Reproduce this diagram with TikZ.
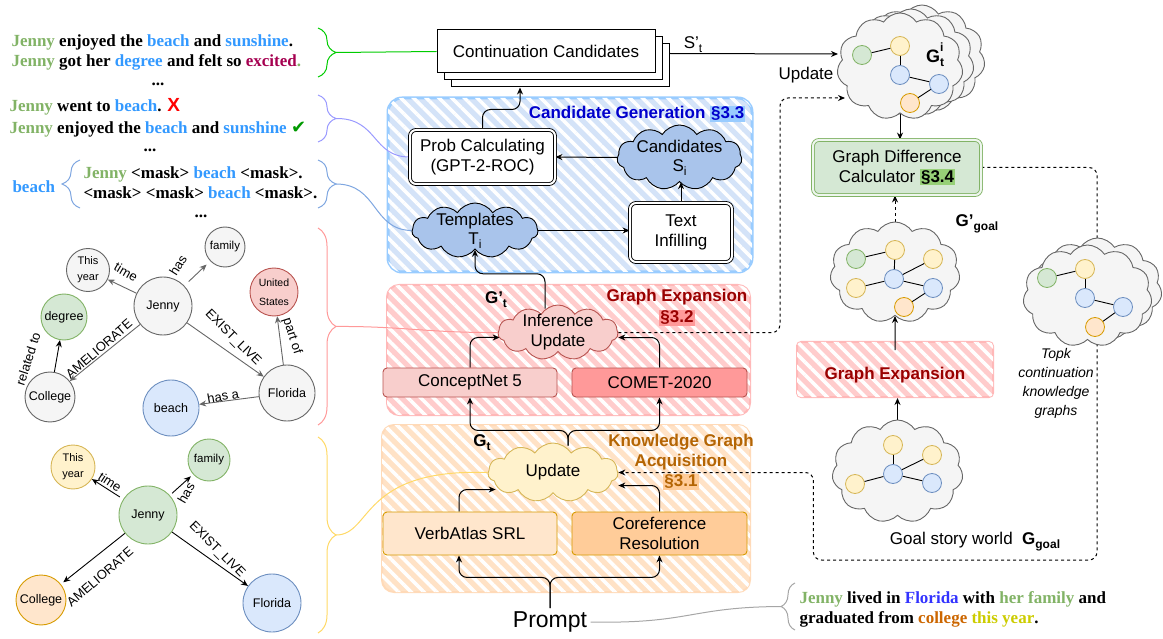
\documentclass[tikz,border=0pt]{standalone}
\usepackage{fontspec}
\setmainfont{Liberation Sans}
\newfontfamily\serifb{Liberation Serif}
\newfontfamily\sansf{Liberation Sans}
\newfontfamily\symf{DejaVu Sans}
\usetikzlibrary{shapes.symbols,arrows.meta,patterns.meta,decorations.pathreplacing,calc}
\definecolor{gfill}{HTML}{D5E8D4}
\definecolor{gline}{HTML}{82B366}
\definecolor{bfill}{HTML}{DAE8FC}
\definecolor{bline}{HTML}{6C8EBF}
\definecolor{rfill}{HTML}{F8CECC}
\definecolor{rline}{HTML}{B85450}
\definecolor{yfill}{HTML}{FFF2CC}
\definecolor{yline}{HTML}{D6B656}
\definecolor{ofill}{HTML}{FFE6CC}
\definecolor{oline}{HTML}{D79B00}
\definecolor{gryfill}{HTML}{F5F5F5}
\definecolor{gryline}{HTML}{666666}
\definecolor{cloudblue}{HTML}{A9C4EB}
\definecolor{salmon}{HTML}{FF9999}
\definecolor{peach}{HTML}{FFCC99}
\definecolor{jg}{HTML}{82B366}
\definecolor{jb}{HTML}{3399FF}
\definecolor{jr}{HTML}{A50050}
\definecolor{ckgreen}{HTML}{009900}
\definecolor{fblue}{HTML}{3333FF}
\definecolor{corange}{HTML}{CC6600}
\definecolor{tyellow}{HTML}{CCCC00}
\definecolor{brgreen}{HTML}{00CC00}
\definecolor{brpurple}{HTML}{9999FF}
\definecolor{brblue}{HTML}{7EA6E0}
\definecolor{brred}{HTML}{FF9999}
\definecolor{bryellow}{HTML}{FFD966}
\definecolor{hatchblue}{HTML}{D4E3F8}
\definecolor{hatchred}{HTML}{FFCCCC}
\definecolor{hatchorange}{HTML}{FFE2C6}
\definecolor{bordblue}{HTML}{99CCFF}
\definecolor{bordred}{HTML}{FFB8B8}
\definecolor{bordorange}{HTML}{FFDAB8}
\definecolor{titleblue}{HTML}{0000CC}
\definecolor{titlered}{HTML}{990000}
\definecolor{titleorange}{HTML}{B46504}
\definecolor{hlgreen}{HTML}{97D077}
\definecolor{hlblue}{HTML}{99CCFF}
\setlength{\fboxsep}{1pt}
\newcommand\mysub[1]{\raisebox{-0.45ex}{\fontsize{12}{12}\selectfont #1}}
\pgfdeclarelayer{back}
\pgfdeclarelayer{mid}
\pgfsetlayers{back,mid,main}
\begin{document}
\begin{tikzpicture}[x=1pt,y=-1pt,font=\fontsize{17}{20}\selectfont,>={Stealth[length=7pt,width=6pt]},
  cc/.style={draw,line width=1pt,fill=white,minimum width=218pt,minimum height=43pt,inner sep=0},
  dbox/.style={draw,double=white,double distance=2pt,line width=0.9pt,rounded corners=6pt,align=center,inner sep=0},
  ebox/.style={draw,line width=0.9pt,rounded corners=4pt,align=center,inner sep=0},
  cl/.style={cloud,cloud puffs=11,cloud puff arc=115,cloud ignores aspect,draw,line width=0.9pt,inner sep=0,align=center},
  mn/.style={circle,minimum size=19pt,inner sep=0,line width=0.8pt},
  mg/.style={mn,fill=gfill,draw=gline},
  my/.style={mn,fill=yfill,draw=yline},
  mb/.style={mn,fill=bfill,draw=bline},
  mo/.style={mn,fill=ofill,draw=oline},
  me/.style={line width=0.9pt},
  gn/.style={circle,inner sep=0,line width=0.9pt,align=center,font=\fontsize{12.5}{14}\selectfont},
  el/.style={font=\fontsize{13}{14}\selectfont,inner sep=1pt},
  ge/.style={->,draw=gryline,line width=0.9pt},
  be/.style={->,draw=black,line width=0.9pt},
  brc/.style={decorate,decoration={brace,amplitude=18pt},line width=1pt},
  serb/.style={font=\serifb\bfseries\fontsize{17}{20}\selectfont},
  hatch/.style 2 args={fill=#1,postaction={pattern={Lines[angle=-45,distance=9pt,line width=3.5pt]},pattern color=white},draw=#2}
]
\useasboundingbox (0,0) rectangle (1163,639);

% ---------- hatched section boxes ----------
\begin{pgfonlayer}{back}
\path[hatch={hatchblue}{bordblue},line width=3pt,rounded corners=14pt] (388,98) rectangle (752,272);
\path[hatch={hatchred}{bordred},line width=2pt,rounded corners=12pt] (387,285) rectangle (750,415);
\path[hatch={hatchorange}{bordorange},line width=2pt,rounded corners=12pt] (382,425) rectangle (750,592);
\path[hatch={hatchred}{bordred},line width=2pt,rounded corners=4pt] (797,342) rectangle (993,397);
\end{pgfonlayer}

% ---------- left texts ----------
\node[serb,anchor=west,align=left] (t1) at (8,52) {\textcolor{jg}{Jenny} enjoyed the \textcolor{jb}{beach} and \textcolor{jb}{sunshine}.\\\textcolor{jg}{Jenny} got her \textcolor{jb}{degree} and felt so \textcolor{jr}{excited}\textcolor{jg}{.}};
\node[serb] (d1) at (158,84) {...};
\node[serb,anchor=west,align=left,font=\serifb\bfseries\fontsize{17}{22}\selectfont] (t2) at (6,118) {\textcolor{jg}{Jenny} went to \textcolor{jb}{beach}. {\sansf\color{red}\fontsize{19}{20}\selectfont X}\\\textcolor{jg}{Jenny} enjoyed the \textcolor{jb}{beach} and \textcolor{jb}{sunshine} {\symf\color{ckgreen}\fontsize{18}{20}\selectfont ✔}};
\node[serb] (d2) at (150,150) {...};
\node[serb,anchor=west,text=jb] (bl) at (9,187) {beach};
\node[serb,anchor=west,align=left] (ml) at (80,183) {\textcolor{jg}{Jenny} <mask> \textcolor{jb}{beach} <mask>.\\<mask> <mask> \textcolor{jb}{beach} <mask>.};
\node[serb] (d3) at (201,216) {...};

% braces
\draw[brc,draw=brgreen] (318,28) -- (318,77);
\draw[brc,draw=brpurple] (318,95) -- (318,142);
\draw[brc,draw=brblue] (318,160) -- (318,208);
\draw[brc,draw=brblue] (80,208) -- (80,160);
\draw[brc,draw=brred] (318,228) -- (318,425);
\draw[brc,draw=bryellow] (318,437) -- (318,633);
\draw[brc,draw=gray!70,decoration={brace,amplitude=14pt}] (795,630) -- (795,583);
\coordinate (tgreen) at (336,52.5);
\coordinate (tpurple) at (336,118.5);
\coordinate (tblue) at (336,184);
\coordinate (tred) at (336,326.5);
\coordinate (tyellow) at (336,535);
\coordinate (tprompt) at (781,606.5);

% ---------- top graph ----------
\node[gn,draw=gryline,fill=gryfill,minimum size=43pt,font=\fontsize{11}{16}\selectfont] (ty1) at (88,270) {This\\year};
\node[gn,draw=gryline,fill=gryfill,minimum size=40pt,font=\fontsize{11.5}{13}\selectfont] (fa1) at (225,247) {family};
\node[gn,draw=gryline,fill=gryfill,minimum size=58pt] (je1) at (163,306) {Jenny};
\node[gn,draw=gline,fill=gfill,minimum size=46pt] (de1) at (64,317) {degree};
\node[gn,draw=rline,fill=rfill,minimum size=48pt,font=\fontsize{10.5}{19}\selectfont] (us1) at (274,292) {United\\States};
\node[gn,draw=gryline,fill=gryfill,minimum size=50pt] (co1) at (50,397) {College};
\node[gn,draw=gryline,fill=gryfill,minimum size=56pt] (fl1) at (287,393) {Florida};
\node[gn,draw=bline,fill=bfill,minimum size=56pt] (be1) at (171,408) {beach};
\draw[ge] (je1) -- (ty1);
\draw[ge,shorten <=6pt,shorten >=5pt] (je1) -- (fa1);
\draw[ge] (je1) -- (co1);
\draw[ge] (je1) -- (fl1);
\draw[ge] (fl1) -- (us1);
\draw[ge] (fl1) -- (be1);
\draw[be] (co1) -- (de1);
\node[el,rotate=-30] (l1) at (126,272) {time};
\node[el,rotate=58] (l2) at (178,265) {has};
\node[el,rotate=41] (l3) at (99,349) {AMELIORATE};
\node[el,rotate=-45] (l4) at (233,338) {EXIST\_LIVE};
\node[el,rotate=-72] (l5) at (292,336) {part of};
\node[el,rotate=10] (l6) at (223,396) {has a};
\node[el,rotate=72] (l7) at (28,359) {related to};

% ---------- bottom graph ----------
\node[gn,draw=yline,fill=yfill,minimum size=44pt,font=\fontsize{11}{16}\selectfont] (ty2) at (73,467) {This\\year};
\node[gn,draw=gline,fill=gfill,minimum size=42pt,font=\fontsize{11.5}{13}\selectfont] (fa2) at (209,460) {family};
\node[gn,draw=gline,fill=gfill,minimum size=58pt] (je2) at (148,515) {Jenny};
\node[gn,draw=oline,fill=ofill,minimum size=50pt] (co2) at (41,600) {College};
\node[gn,draw=bline,fill=bfill,minimum size=58pt] (fl2) at (272,603) {Florida};
\draw[be,shorten <=4pt] (je2) -- (ty2);
\draw[be,shorten <=3pt,shorten >=3pt] (je2) -- (fa2);
\draw[be,shorten >=3pt] (je2) -- (co2);
\draw[be] (je2) -- (fl2);
\node[el,rotate=-33] (m1) at (110,482) {time};
\node[el,rotate=60] (m2) at (186,493) {has};
\node[el,rotate=41] (m3) at (100,577) {AMELIORATE};
\node[el,rotate=-45] (m4) at (217,550) {EXIST\_LIVE};

% ---------- continuation candidates ----------
\node[cc] (cc3) at (560,65.5) {};
\node[cc] (cc2) at (553,58.5) {};
\node[cc] (ccand) at (546,51.5) {Continuation Candidates};
\node (sp) at (693,45) {S'\mysub{t}};
\node (upl) at (806,75) {Update};

% ---------- candidate generation ----------
\node[font=\bfseries\fontsize{17}{20}\selectfont,text=titleblue] (cgt) at (637,114) {Candidate Generation \colorbox{hlblue}{§3.3}};
\node[dbox,fill=white,minimum width=145pt,minimum height=54pt] (prob) at (482.5,157) {Prob Calculating\\(GPT-2-ROC)};
\node[cl,fill=cloudblue,draw=black,minimum width=125pt,minimum height=65pt,label={[align=center,font=\fontsize{17}{19}\selectfont]center:Candidates\\S\mysub{i}}] (cand) at (679.5,157.5) {};
\node[dbox,fill=white,minimum width=102pt,minimum height=59pt] (ti) at (681,232.5) {Text\\Infilling};
\node[cl,fill=cloudblue,draw=black,minimum width=126pt,minimum height=55pt,label={[align=center,font=\fontsize{17}{19}\selectfont]center:Templates\\T\mysub{i}}] (tmp) at (475,230.5) {};

% ---------- graph expansion ----------
\node[font=\bfseries\fontsize{17}{21}\selectfont,text=titlered,align=center] (get) at (677,307.5) {Graph Expansion\\\colorbox{salmon}{§3.2}};
\node[cl,fill=rfill,draw=rline,minimum width=120pt,minimum height=55pt,label={[align=center,font=\fontsize{17}{20}\selectfont]center:Inference\\Update}] (iu) at (558,332.5) {};
\node[font=\bfseries\fontsize{17}{20}\selectfont] (gtp) at (496,300) {G'\mysub{t}};
\node[ebox,fill=rfill,draw=rline,minimum width=174pt,minimum height=29pt] (cn) at (470,382.5) {ConceptNet 5};
\node[ebox,fill=salmon,draw=rline,minimum width=175pt,minimum height=29pt] (comet) at (659.5,382.5) {COMET-2020};

% ---------- KG acquisition ----------
\node[font=\bfseries\fontsize{17}{20}\selectfont,text=titleorange,align=center] (kgt) at (681,462) {Knowledge Graph\\Acquisition\\\colorbox{peach}{§3.1}};
\node[cl,fill=yfill,draw=yline,minimum width=130pt,minimum height=59pt,label={[font=\fontsize{17}{20}\selectfont]center:Update}] (upd) at (553,472.5) {};
\node[font=\bfseries\fontsize{17}{20}\selectfont] (gt) at (482,443) {G\mysub{t}};
\node[ebox,fill=ofill,draw=oline,minimum width=174pt,minimum height=43pt] (va) at (470,533.5) {VerbAtlas SRL};
\node[ebox,fill=peach,draw=oline,minimum width=175pt,minimum height=43pt] (co) at (659.5,533.5) {Coreference\\Resolution};
\node[font=\fontsize{23}{26}\selectfont] (prompt) at (550,622) {Prompt};
\node[serb,anchor=west,align=left] (ptxt) at (796,609) {\textcolor{jg}{Jenny} lived in \textcolor{fblue}{Florida} with \textcolor{jg}{her family} and\\graduated from \textcolor{corange}{college} \textcolor{tyellow}{this year}.};

% ---------- right column ----------
\node[cl,fill=gryfill,draw=gryline,minimum width=126pt,minimum height=107pt] (gi3) at (922,58.5) {};
\node[cl,fill=gryfill,draw=gryline,minimum width=126pt,minimum height=107pt] (gi2) at (911,62.5) {};
\node[cl,fill=gryfill,draw=gryline,minimum width=126pt,minimum height=107pt] (gi1) at (900,66.5) {};
\node[mg] (a1) at (862,55) {};
\node[my] (a2) at (900,46) {};
\node[mb] (a3) at (900,75) {};
\node[mb] (a4) at (939,84) {};
\node[mo] (a5) at (910,103) {};
\draw[me] (a1) -- (a2); \draw[me] (a2) -- (a3); \draw[me] (a3) -- (a4); \draw[me] (a4) -- (a5);
\node[font=\bfseries\fontsize{18}{20}\selectfont] (gil) at (935,55) {G\makebox[0pt][l]{\raisebox{1.1ex}{\fontsize{12}{12}\selectfont\bfseries i}}\raisebox{-0.5ex}{\fontsize{12}{12}\selectfont\bfseries t}};
\coordinate (gin) at (838,54);
\coordinate (gin2) at (845,98);

\node[dbox,draw=gline,fill=gfill,double=gfill!40,minimum width=168pt,minimum height=55pt] (gdc) at (897,167.5) {Graph Difference\\Calculator \colorbox{hlgreen}{\bfseries §3.4}};

\node[cl,fill=gryfill,draw=gryline,minimum width=130pt,minimum height=101pt] (ggp) at (895,272.5) {};
\node[mg] (b1) at (856,259) {};
\node[my] (b2) at (895,250) {};
\node[my] (b3) at (933,259) {};
\node[my] (b4) at (856,288) {};
\node[mb] (b5) at (894,279) {};
\node[mb] (b6) at (933,288) {};
\node[mo] (b7) at (904,307) {};
\draw[me] (b1) -- (b2); \draw[me] (b2) -- (b5); \draw[me] (b5) -- (b3); \draw[me] (b5) -- (b4); \draw[me] (b5) -- (b6); \draw[me] (b6) -- (b7);
\node[font=\bfseries\fontsize{17}{20}\selectfont] (ggpl) at (977,224) {G'\mysub{\bfseries goal}};

\node[font=\bfseries\fontsize{17}{20}\selectfont,text=titlered] (gex) at (895,375) {Graph Expansion};
\coordinate (gexc) at (895,369.5);

\node[cl,fill=gryfill,draw=gryline,minimum width=131pt,minimum height=103pt] (goal) at (897.5,471.5) {};
\node[my] (c1) at (893,445) {};
\node[my] (c2) at (932,455) {};
\node[mb] (c3) at (893,474) {};
\node[my] (c4) at (855,484) {};
\node[mb] (c5) at (932,483) {};
\draw[me] (c1) -- (c3); \draw[me] (c3) -- (c2); \draw[me] (c3) -- (c4); \draw[me] (c3) -- (c5);
\node (gsw) at (975,542) {Goal story world \ \textbf{G}\mysub{\bfseries goal}};

\node[cl,fill=gryfill,draw=gryline,minimum width=129pt,minimum height=102pt] (tk2) at (1097.5,289) {};
\node[cl,fill=gryfill,draw=gryline,minimum width=129pt,minimum height=102pt] (tk1) at (1087.5,296) {};
\node[mg] (e1) at (1047,278) {};
\node[my] (e2) at (1085,269) {};
\node[mb] (e3) at (1085,298) {};
\node[mb] (e4) at (1123,307) {};
\node[mo] (e5) at (1095,327) {};
\draw[me] (e1) -- (e2); \draw[me] (e2) -- (e3); \draw[me] (e3) -- (e4); \draw[me] (e4) -- (e5);
\node[align=center,font=\itshape\fontsize{14}{19}\selectfont] (topk) at (1056,383.5) {Topk\\continuation\\knowledge\\graphs};

% ---------- connectors ----------
\begin{pgfonlayer}{mid}
\draw[draw=brgreen,line width=1pt] (tgreen) -- (ccand.west);
\draw[draw=brpurple,line width=1pt] (tpurple) .. controls (378,118) and (372,157) .. (prob.west);
\draw[draw=brblue,line width=1pt] (tblue) .. controls (378,184) and (372,230) .. (tmp.west);
\draw[draw=brred,line width=1pt] (tred) .. controls (400,326) and (430,333) .. (iu.west);
\draw[draw=bryellow,line width=1pt] (tyellow) .. controls (372,535) and (360,468) .. (upd.west);
\draw[draw=gray!70,line width=1pt] (prompt.east) .. controls (690,624) and (690,607) .. (tprompt);

\draw[->,line width=1pt] ($(cc3.north east)+(0,10)$) -- (gin);
\draw[->,line width=1pt,rounded corners=8pt] (prob.north) |- ($(cc3.south)+(-40,22)$) -- ($(cc3.south)+(-40,0)$);
\draw[->,line width=1pt] (cand.west) -- (prob.east);
\draw[->,line width=1pt] (ti.north) -- (ti.north |- cand.south);
\draw[->,line width=1pt] (tmp.east) -- (tmp.east -| ti.west);
\draw[->,line width=1pt,rounded corners=8pt] ($(iu.north)+(-13,4)$) |- ($(tmp.south)+(0,24)$) -- (tmp.south);
\draw[->,line width=1pt,rounded corners=8pt] (cn.north) |- ($(iu.west)+(2,5)$);
\draw[->,line width=1pt,rounded corners=8pt] (comet.north) |- ($(iu.east)+(0,5)$);
\draw[->,line width=1pt,rounded corners=8pt] ($(upd.north)+(15,3)$) |- ($(cn.south)+(0,33)$) -- (cn.south);
\draw[->,line width=1pt,rounded corners=8pt] ($(upd.north)+(15,3)$) |- ($(comet.south)+(0,33)$) -- (comet.south);
\draw[->,line width=1pt,rounded corners=8pt] ($(va.north)+(-11,0)$) |- ($(upd.west)+(8,17)$);
\draw[->,line width=1pt,rounded corners=8pt] (co.north) |- ($(upd.east)+(0,13)$);
\draw[->,line width=1pt,rounded corners=8pt] (prompt.north) |- ($(va.south)+(-11,22)$) -- ($(va.south)+(-11,0)$);
\draw[->,line width=1pt,rounded corners=8pt] (prompt.north) |- ($(co.south)+(0,22)$) -- (co.south);

\draw[->,line width=1pt,dashed,rounded corners=8pt] (iu.east) -| (780,98) -- (gin2);
\draw[->,line width=1pt,dashed,rounded corners=8pt] (gdc.east) -| (1097,560) -| ($(upd.east)+(195,0)$) -- (upd.east);
\draw[->,line width=1pt] (gi1.south) -- (gi1.south |- gdc.north);
\draw[->,line width=1pt,dashed] (ggp.north) -- (ggp.north |- gdc.south);
\draw[->,line width=1pt] (gexc |- 0,350) -- (ggp.south);
\draw[->,line width=1pt] (goal.north) -- (goal.north |- 0,398);
\end{pgfonlayer}
\end{tikzpicture}
\end{document}
